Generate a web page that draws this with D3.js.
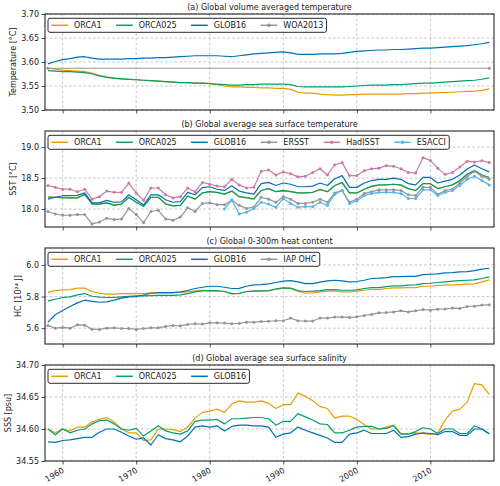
<!DOCTYPE html>
<html><head><meta charset="utf-8">
<script src="https://cdn.jsdelivr.net/npm/d3@7/dist/d3.min.js"></script>
<style>body{margin:0;background:#fff} text{font-family:"DejaVu Sans",sans-serif;fill:#1a1a1a}</style>
</head><body><svg id="c" width="500" height="486"></svg>
<script>
// ---------- DATA ----------
const years = [1958,1959,1960,1961,1962,1963,1964,1965,1966,1967,1968,1969,1970,1971,1972,1973,1974,1975,1976,1977,
1978,1979,1980,1981,1982,1983,1984,1985,1986,1987,1988,1989,1990,1991,1992,1993,1994,1995,1996,1997,
1998,1999,2000,2001,2002,2003,2004,2005,2006,2007,2008,2009,2010,2011,2012,2013,2014,2015,2016,2017,2018];
const yearsESACCI = [1982,1983,1984,1985,1986,1987,1988,1989,1990,1991,1992,1993,1994,1995,1996,1997,1998,1999,
2000,2001,2002,2003,2004,2005,2006,2007,2008,2009,2010,2011,2012,2013,2014,2015,2016,2017,2018];
const yearsWOA = [1958, 2018];

// (a) volume averaged temperature
const tempORCA1 = [3.587,3.585,3.583,3.582,3.581,3.580,3.577,3.572,3.569,3.567,
3.565,3.564,3.563,3.562,3.561,3.560,3.559,3.558,3.557,3.557,
3.556,3.556,3.555,3.553,3.550,3.548,3.548,3.547,3.547,3.546,
3.546,3.545,3.545,3.543,3.537,3.535,3.535,3.533,3.532,3.531,
3.531,3.532,3.532,3.533,3.533,3.533,3.533,3.533,3.533,3.534,
3.534,3.535,3.535,3.536,3.536,3.537,3.538,3.539,3.539,3.541,3.544];
const tempORCA025 = [3.582,3.581,3.580,3.580,3.579,3.578,3.575,3.571,3.568,3.566,
3.565,3.564,3.563,3.562,3.561,3.560,3.559,3.558,3.557,3.557,
3.556,3.556,3.555,3.554,3.553,3.552,3.552,3.553,3.553,3.554,
3.554,3.554,3.554,3.553,3.549,3.548,3.548,3.548,3.548,3.548,
3.548,3.549,3.550,3.551,3.552,3.552,3.552,3.553,3.553,3.554,
3.555,3.556,3.556,3.557,3.558,3.559,3.560,3.561,3.562,3.564,3.567];
const tempGLOB16 = [3.596,3.601,3.605,3.607,3.610,3.611,3.608,3.606,3.606,3.606,
3.606,3.607,3.607,3.608,3.608,3.609,3.609,3.610,3.611,3.612,
3.613,3.613,3.613,3.613,3.612,3.611,3.613,3.615,3.617,3.618,
3.619,3.620,3.621,3.619,3.616,3.616,3.616,3.617,3.617,3.617,
3.618,3.620,3.622,3.623,3.624,3.625,3.625,3.626,3.626,3.627,
3.628,3.629,3.629,3.630,3.631,3.632,3.633,3.634,3.636,3.638,3.641];
const tempWOA2013 = [3.587, 3.587];

// (b) SST
const sstORCA1 = [18.20,18.19,18.19,18.18,18.18,18.23,18.09,18.08,18.10,18.07,
18.08,18.19,18.11,18.05,18.19,18.19,18.09,18.05,18.06,18.21,
18.16,18.26,18.28,18.27,18.24,18.29,18.20,18.19,18.17,18.30,
18.33,18.28,18.29,18.28,18.26,18.26,18.27,18.31,18.28,18.38,
18.42,18.26,18.26,18.32,18.36,18.38,18.39,18.40,18.38,18.33,
18.30,18.41,18.41,18.33,18.36,18.39,18.45,18.56,18.61,18.55,18.51];
const sstORCA025 = [18.19,18.19,18.18,18.18,18.18,18.24,18.08,18.08,18.10,18.06,
18.08,18.19,18.11,18.04,18.19,18.19,18.08,18.05,18.06,18.21,
18.16,18.26,18.28,18.27,18.24,18.29,18.20,18.18,18.16,18.30,
18.33,18.28,18.30,18.28,18.26,18.26,18.27,18.32,18.28,18.38,
18.43,18.26,18.26,18.32,18.37,18.39,18.39,18.40,18.39,18.33,
18.30,18.41,18.41,18.33,18.36,18.39,18.46,18.565,18.62,18.55,18.51];
const sstGLOB16 = [18.16,18.19,18.215,18.215,18.22,18.26,18.10,18.10,18.14,18.11,
18.115,18.23,18.15,18.065,18.23,18.23,18.15,18.11,18.12,18.27,
18.23,18.345,18.36,18.32,18.30,18.376,18.29,18.26,18.24,18.41,
18.43,18.38,18.42,18.40,18.36,18.36,18.37,18.42,18.38,18.49,
18.54,18.35,18.35,18.42,18.46,18.48,18.48,18.50,18.48,18.41,
18.39,18.51,18.51,18.42,18.45,18.48,18.55,18.645,18.71,18.65,18.60];
const sstERSST = [17.96,17.92,17.90,17.90,17.91,17.91,17.76,17.79,17.85,17.83,
17.84,18.01,17.91,17.78,17.96,17.98,17.84,17.82,17.87,18.02,
17.96,18.09,18.10,18.07,18.07,18.14,18.06,18.01,18.03,18.19,
18.16,18.11,18.20,18.16,18.09,18.09,18.11,18.16,18.11,18.26,
18.30,18.11,18.16,18.25,18.28,18.31,18.31,18.31,18.30,18.23,
18.22,18.35,18.35,18.24,18.30,18.32,18.42,18.53,18.61,18.53,18.48];
const sstHadISST = [18.38,18.35,18.32,18.32,18.28,18.32,18.16,18.20,18.29,18.27,
18.27,18.42,18.26,18.14,18.34,18.34,18.23,18.18,18.20,18.34,
18.28,18.43,18.40,18.37,18.36,18.48,18.39,18.34,18.35,18.61,
18.63,18.55,18.60,18.57,18.52,18.53,18.59,18.65,18.55,18.715,
18.75,18.54,18.54,18.62,18.65,18.66,18.70,18.69,18.65,18.59,
18.58,18.83,18.785,18.66,18.56,18.59,18.68,18.77,18.76,18.78,18.75];
const sstESACCI = [18.00,18.15,17.92,17.95,18.01,18.11,18.08,18.03,18.17,18.09,
18.03,18.04,18.04,18.11,18.06,18.24,18.30,18.09,18.13,18.22,
18.25,18.27,18.27,18.27,18.25,18.17,18.17,18.31,18.31,18.22,
18.27,18.30,18.38,18.48,18.53,18.46,18.39];

// (c) 0-300m heat content
const hcORCA1 = [5.828,5.838,5.842,5.844,5.853,5.853,5.832,5.821,5.815,5.815,
5.819,5.819,5.819,5.819,5.823,5.823,5.823,5.825,5.827,5.830,
5.836,5.840,5.838,5.836,5.832,5.817,5.819,5.832,5.834,5.834,
5.836,5.846,5.853,5.851,5.832,5.821,5.823,5.830,5.834,5.836,
5.830,5.830,5.834,5.840,5.846,5.844,5.851,5.855,5.855,5.857,
5.857,5.865,5.865,5.870,5.872,5.874,5.876,5.878,5.880,5.893,5.905];
const hcORCA025 = [5.773,5.783,5.794,5.798,5.811,5.819,5.802,5.796,5.794,5.794,
5.798,5.802,5.804,5.804,5.806,5.808,5.808,5.808,5.811,5.819,
5.830,5.836,5.838,5.836,5.832,5.819,5.821,5.832,5.834,5.836,
5.838,5.848,5.855,5.853,5.838,5.832,5.834,5.838,5.844,5.844,
5.840,5.840,5.842,5.851,5.857,5.857,5.863,5.868,5.868,5.872,
5.874,5.882,5.884,5.889,5.893,5.897,5.901,5.903,5.905,5.914,5.924];
const hcGLOB16 = [5.638,5.685,5.712,5.737,5.760,5.777,5.769,5.764,5.766,5.777,
5.790,5.798,5.800,5.810,5.821,5.825,5.825,5.825,5.830,5.838,
5.851,5.859,5.865,5.865,5.859,5.851,5.852,5.865,5.874,5.876,
5.880,5.889,5.897,5.901,5.893,5.882,5.882,5.891,5.899,5.903,
5.899,5.893,5.895,5.903,5.914,5.916,5.920,5.926,5.926,5.928,
5.928,5.939,5.941,5.943,5.950,5.951,5.956,5.958,5.964,5.973,5.979];
const hcIAP = [5.617,5.600,5.605,5.600,5.621,5.619,5.594,5.592,5.600,5.602,
5.598,5.598,5.592,5.598,5.602,5.602,5.611,5.617,5.615,5.624,
5.628,5.626,5.634,5.634,5.632,5.628,5.630,5.638,5.638,5.642,
5.644,5.647,5.647,5.664,5.647,5.645,5.645,5.664,5.664,5.670,
5.670,5.668,5.672,5.680,5.687,5.697,5.699,5.703,5.710,5.703,
5.710,5.718,5.714,5.720,5.722,5.727,5.725,5.737,5.739,5.746,5.748];

// (d) SSS
const sssORCA1 = [34.600,34.594,34.600,34.597,34.603,34.603,34.611,34.615,34.618,34.611,
34.600,34.594,34.594,34.582,34.583,34.600,34.600,34.599,34.596,34.603,
34.617,34.626,34.628,34.631,34.626,34.639,34.644,34.642,34.642,34.644,
34.640,34.632,34.638,34.638,34.656,34.651,34.644,34.635,34.632,34.617,
34.620,34.620,34.615,34.607,34.600,34.600,34.603,34.606,34.593,34.593,
34.594,34.593,34.591,34.594,34.614,34.628,34.631,34.642,34.671,34.669,34.654];
const sssORCA025 = [34.600,34.591,34.600,34.594,34.598,34.600,34.608,34.613,34.614,34.608,
34.600,34.598,34.601,34.589,34.597,34.605,34.597,34.594,34.592,34.597,
34.612,34.614,34.614,34.615,34.608,34.616,34.616,34.617,34.618,34.618,
34.616,34.606,34.612,34.612,34.624,34.619,34.614,34.608,34.607,34.594,
34.594,34.598,34.603,34.604,34.604,34.600,34.601,34.605,34.592,34.592,
34.596,34.602,34.600,34.593,34.600,34.600,34.593,34.593,34.605,34.600,34.593];
const sssGLOB16 = [34.580,34.579,34.582,34.583,34.585,34.587,34.587,34.595,34.600,34.600,
34.595,34.589,34.584,34.586,34.575,34.591,34.585,34.583,34.580,34.589,
34.603,34.605,34.603,34.605,34.597,34.604,34.606,34.606,34.605,34.605,
34.603,34.587,34.592,34.594,34.603,34.598,34.594,34.590,34.586,34.579,
34.579,34.592,34.594,34.598,34.593,34.593,34.593,34.598,34.587,34.588,
34.592,34.594,34.593,34.591,34.596,34.596,34.590,34.590,34.600,34.600,34.592];

const xTicks = [1960,1970,1980,1990,2000,2010];
const ticksA = [3.50,3.55,3.60,3.65,3.70];
const ticksB = [18.0,18.5,19.0];
const ticksC = [5.6,5.8,6.0];
const ticksD = [34.55,34.60,34.65,34.70];

// ---------- LAYOUT / STYLE ----------
const C = {orca1:'#E69F00', orca025:'#009E73', glob16:'#0072B2', gray:'#969696', had:'#CC79A7', esa:'#56B4E9'};
const L = 45, R = 494, PH = 96, FS = 8;
const tops = [14, 131, 248, 365];
const x = d3.scaleLinear().domain([1957.6, 2018.65]).range([L, R]);
const svg = d3.select('#c');
svg.append('rect').attr('width',500).attr('height',486).attr('fill','#fff');

const panels = [
  {title:'(a) Global volume averaged temperature', ylabel:'Temperature [°C]', dom:[3.50,3.70], ticks:ticksA, fmt:'.2f',
   series:[
    {name:'ORCA1', xs:years, ys:tempORCA1, c:C.orca1},
    {name:'ORCA025', xs:years, ys:tempORCA025, c:C.orca025},
    {name:'GLOB16', xs:years, ys:tempGLOB16, c:C.glob16},
    {name:'WOA2013', xs:yearsWOA, ys:tempWOA2013, c:C.gray, m:true}]},
  {title:'(b) Global average sea surface temperature', ylabel:'SST [°C]', dom:[17.71,19.26], ticks:ticksB, fmt:'.1f',
   series:[
    {name:'ORCA1', xs:years, ys:sstORCA1, c:C.orca1},
    {name:'ORCA025', xs:years, ys:sstORCA025, c:C.orca025},
    {name:'GLOB16', xs:years, ys:sstGLOB16, c:C.glob16},
    {name:'ERSST', xs:years, ys:sstERSST, c:C.gray, m:true},
    {name:'HadISST', xs:years, ys:sstHadISST, c:C.had, m:true},
    {name:'ESACCI', xs:yearsESACCI, ys:sstESACCI, c:C.esa, m:true}]},
  {title:'(c) Global 0-300m heat content', ylabel:'HC [10²⁴ J]', dom:[5.50,6.107], ticks:ticksC, fmt:'.1f',
   series:[
    {name:'ORCA1', xs:years, ys:hcORCA1, c:C.orca1},
    {name:'ORCA025', xs:years, ys:hcORCA025, c:C.orca025},
    {name:'GLOB16', xs:years, ys:hcGLOB16, c:C.glob16},
    {name:'IAP OHC', xs:years, ys:hcIAP, c:C.gray, m:true}]},
  {title:'(d) Global average sea surface salinity', ylabel:'SSS [psu]', dom:[34.55,34.70], ticks:ticksD, fmt:'.2f',
   series:[
    {name:'ORCA1', xs:years, ys:sssORCA1, c:C.orca1},
    {name:'ORCA025', xs:years, ys:sssORCA025, c:C.orca025},
    {name:'GLOB16', xs:years, ys:sssGLOB16, c:C.glob16}]}
];

panels.forEach((p, i) => {
  const top = tops[i], bot = top + PH;
  const y = d3.scaleLinear().domain(p.dom).range([bot, top]);
  const g = svg.append('g');
  const cid = 'clip' + i;
  svg.append('clipPath').attr('id', cid).append('rect').attr('x', L).attr('y', top).attr('width', R - L).attr('height', PH);

  // grid
  const grid = g.append('g').attr('stroke','#b8b8b8').attr('stroke-width',0.8).attr('stroke-dasharray','2.6,2.2');
  xTicks.forEach(t => grid.append('line').attr('x1', x(t)).attr('x2', x(t)).attr('y1', top).attr('y2', bot));
  p.ticks.forEach(t => grid.append('line').attr('x1', L).attr('x2', R).attr('y1', y(t)).attr('y2', y(t)));

  // axes
  const ya = d3.axisLeft(y).tickValues(p.ticks).tickFormat(d3.format(p.fmt)).tickSize(3.5).tickPadding(2.5);
  const yg = g.append('g').attr('transform', `translate(${L},0)`).call(ya);
  const xa = d3.axisBottom(x).tickValues(xTicks).tickSize(3.5).tickFormat(i === 3 ? d3.format('d') : () => '');
  const xg = g.append('g').attr('transform', `translate(0,${bot})`).call(xa);
  [yg, xg].forEach(a => { a.select('.domain').remove(); a.selectAll('line').attr('stroke', '#222').attr('stroke-width', 0.8);
    a.selectAll('text').attr('font-size', FS).attr('font-family', 'DejaVu Sans').attr('fill', '#1a1a1a'); });
  if (i === 3) {
    xg.selectAll('.tick text').attr('text-anchor', 'end').attr('dy', null).attr('y', null)
      .attr('transform', 'translate(1.5,11) rotate(-30)');
  }

  // series
  const lines = g.append('g').attr('clip-path', `url(#${cid})`);
  p.series.forEach(s => {
    const pts = s.xs.map((v, k) => [x(v), y(s.ys[k])]);
    lines.append('path').attr('d', d3.line()(pts)).attr('fill', 'none').attr('stroke', s.c).attr('stroke-width', 1.2)
      .attr('stroke-linejoin', 'round');
    if (s.m) lines.selectAll(null).data(pts).enter().append('circle').attr('cx', d => d[0]).attr('cy', d => d[1])
      .attr('r', 1.5).attr('fill', s.c);
  });

  // frame
  g.append('rect').attr('x', L).attr('y', top).attr('width', R - L).attr('height', PH)
    .attr('fill', 'none').attr('stroke', '#111').attr('stroke-width', 1);

  // title
  g.append('text').attr('x', (L + R) / 2).attr('y', top - 4).attr('text-anchor', 'middle').attr('font-size', FS).text(p.title);

  // y label
  let minX = Infinity;
  yg.selectAll('.tick text').each(function () { const b = this.getBBox(); const m = this.getCTM(); minX = Math.min(minX, L + b.x); });
  const lx = minX - 5.5, ly = (top + bot) / 2;
  g.append('text').attr('transform', `translate(${lx},${ly}) rotate(-90)`).attr('text-anchor', 'middle')
    .attr('font-size', FS).text(p.ylabel);

  // legend
  const lg = g.append('g');
  const box = lg.append('rect');
  const lt = top + 4.3, lh = 14, cy = lt + lh / 2, lx0 = 48;
  let cx = lx0 + 3.3;
  p.series.forEach(s => {
    lg.append('line').attr('x1', cx).attr('x2', cx + 16.7).attr('y1', cy).attr('y2', cy).attr('stroke', s.c).attr('stroke-width', 1.5);
    if (s.m) lg.append('circle').attr('cx', cx + 8.35).attr('cy', cy).attr('r', 1.8).attr('fill', s.c);
    const t = lg.append('text').attr('x', cx + 22.7).attr('y', cy).attr('dy', '0.35em').attr('font-size', FS).text(s.name);
    const w = t.node().getComputedTextLength();
    cx = cx + 22.7 + w + 14.5;
  });
  const right = cx - 14.5 + 3.3;
  box.attr('x', lx0).attr('y', lt).attr('width', right - lx0).attr('height', lh).attr('rx', 2)
    .attr('fill', 'rgba(255,255,255,0.85)').attr('stroke', '#111').attr('stroke-width', 0.9);
});
</script></body></html>
